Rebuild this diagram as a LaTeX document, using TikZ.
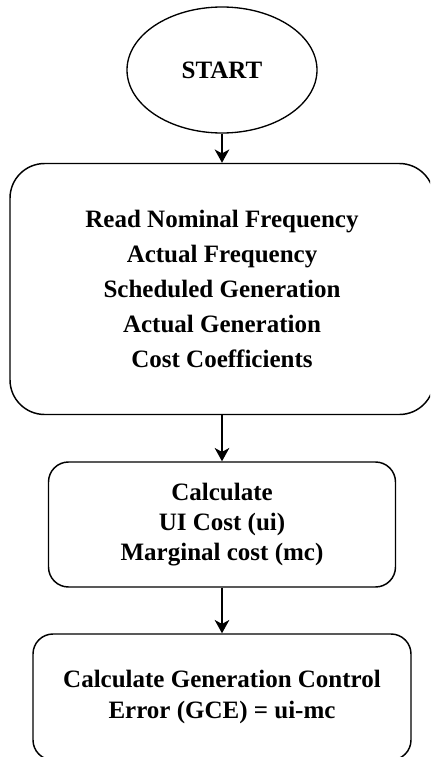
\documentclass[tikz,border=0pt]{standalone}
\usepackage{fontspec}
\setmainfont{Liberation Serif}
\usetikzlibrary{shapes,positioning,calc,arrows,arrows.meta}

\begin{document}
\begin{tikzpicture}[x=0.75pt, y=-0.75pt,
    every node/.style={align=center},
    boxtext/.style={font=\bfseries\fontsize{18.75}{#1}\selectfont},
    flowbox/.style={draw, line width=1.1pt, rectangle, inner sep=0pt},
    flowarrow/.style={-{Stealth[length=10pt,width=11pt,inset=3pt]}, line width=1.1pt}]

    \useasboundingbox (0,0) rectangle (430,757);
    \clip (0,0) rectangle (430,757);

    %\draw[help lines] (0,0) grid (430,757);

    \node[ellipse, draw, line width=1pt, minimum width=142.5pt, minimum height=94.5pt,
        boxtext=22pt] (start) at (222,70) {START};

    \node[flowbox, rounded corners=26pt, minimum width=318pt, minimum height=188.25pt,
        boxtext=26.25pt] (read) at (222,289)
        {Read Nominal Frequency\\ Actual Frequency\\ Scheduled Generation\\
         Actual Generation\\ Cost Coefficients};

    \node[flowbox, rounded corners=15pt, minimum width=260.25pt, minimum height=93.75pt,
        boxtext=22.5pt] (calc) at (222,524.5)
        {Calculate\\ UI Cost (ui)\\ Marginal cost (mc)};

    \node[flowbox, rounded corners=15pt, minimum width=283.5pt, minimum height=94.5pt,
        boxtext=23.25pt] (gce) at (222,697)
        {Calculate Generation Control\\ Error (GCE) = ui-mc};

    \draw[flowarrow] (start) -- (read);
    \draw[flowarrow] (read) -- (calc);
    \draw[flowarrow] (calc) -- (gce);

\end{tikzpicture}
\end{document}
